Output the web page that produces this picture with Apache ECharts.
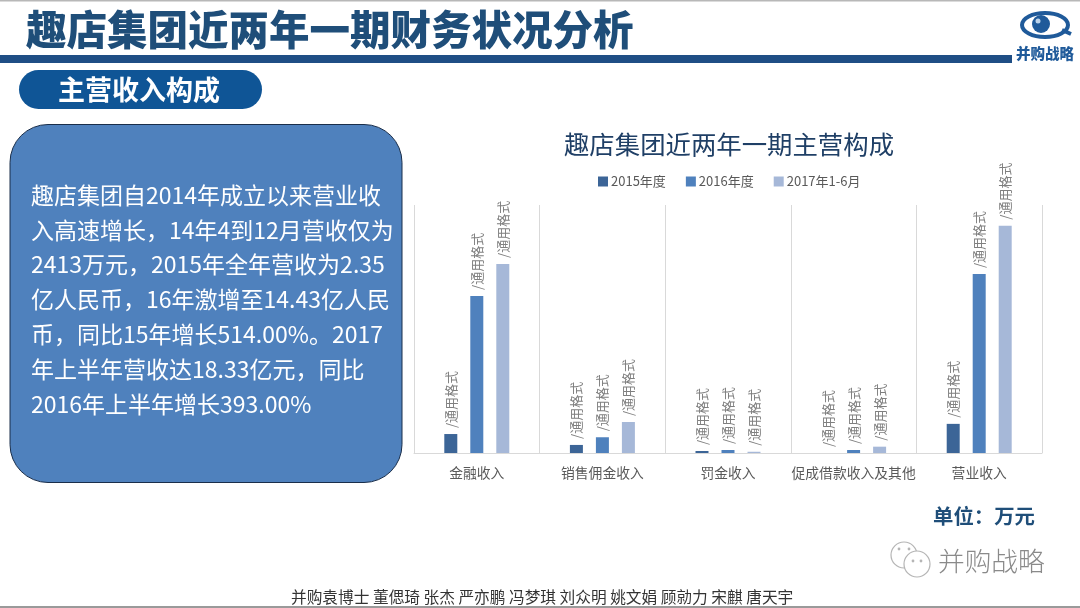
<!DOCTYPE html>
<html><head><meta charset="utf-8">
<style>html,body{margin:0;padding:0;background:#fff}#c{width:1080px;height:608px}</style>
<script src="https://cdn.jsdelivr.net/npm/echarts@6/dist/echarts.min.js"></script>
</head><body><div id="c"></div>
<script>
const categories = ['金融收入','销售佣金收入','罚金收入','促成借款收入及其他','营业收入'];
const seriesNames = ['2015年度','2016年度','2017年1-6月'];
const values2015 = [15300, 6500, 1600, 0, 23500];
const values2016 = [126700, 12700, 2400, 2400, 144300];
const values2017 = [152500, 25000, 1000, 5100, 183300];
const dataLabel = '/通用格式';
const bodyLines = [
 '趣店集团自2014年成立以来营业收',
 '入高速增长，14年4到12月营收仅为',
 '2413万元，2015年全年营收为2.35',
 '亿人民币，16年激增至14.43亿人民',
 '币，同比15年增长514.00%。2017',
 '年上半年营收达18.33亿元，同比',
 '2016年上半年增长393.00%'
];
const FONT = '"Noto Sans CJK SC","Noto Sans",sans-serif';
const colors = ['#3c6597','#4f81bd','#a6b8d8'];
const makeSeries = (name, data, color) => ({
  name, type:'bar', data, barWidth:13, barGap:'100%',
  itemStyle:{color},
  label:{show:true, position:'top', rotate:90, align:'left', verticalAlign:'middle', distance:6,
    formatter:dataLabel, fontSize:13, color:'#7f7f7f', fontFamily:FONT}
});
const txt = (x,y,text,fontSize,fill,fontWeight,extra) => ({type:'text',x,y,silent:true,
  style:Object.assign({text,fontSize,fill,fontWeight:fontWeight||'normal',fontFamily:FONT,textAlign:'left',textVerticalAlign:'middle'},extra||{})});
const graphics = [
  {type:'rect',shape:{x:0,y:0,width:1080,height:1.5},style:{fill:'#b8b8b8'}},
  {type:'rect',shape:{x:0,y:606,width:1080,height:2},style:{fill:'#9a9a9a'}},
  {type:'rect',shape:{x:0,y:55,width:1012,height:8},style:{fill:'#1f4e85'}},
  txt(26,30,'趣店集团近两年一期财务状况分析',40.5,'#1f4e79','900'),
  {type:'rect',shape:{x:19,y:70,width:243,height:39,r:19.5},style:{fill:'#0f5596'}},
  txt(58,90,'主营收入构成',27,'#ffffff','700'),
  {type:'rect',shape:{x:10,y:124.5,width:392,height:358,r:38},style:{fill:'#4f81bd',stroke:'#1a2e4a',lineWidth:1}},
  ...bodyLines.map((t,i)=>txt(31,195+i*34.8,t,23,'#ffffff','400')),
  txt(933,516,'单位：万元',20.4,'#1f4e79','700'),
  txt(938,561,'并购战略',26.7,'#8a8a8a','300'),
  txt(291,597,'并购袁博士 董偲琦 张杰 严亦鹏 冯梦琪 刘众明 姚文娟 顾勍力 宋麒 唐天宇',15.7,'#333333','400'),
  // logo
  {type:'ellipse',shape:{cx:1045,cy:25,rx:23,ry:12},style:{fill:'#fff',stroke:'#1f5a9a',lineWidth:4}},
  {type:'circle',shape:{cx:1041,cy:24,r:9},style:{fill:'#1f5a9a'}},
  {type:'circle',shape:{cx:1038,cy:21,r:2.5},style:{fill:'#bcd3ea'}},
  {type:'line',shape:{x1:1062,y1:30,x2:1071,y2:34},style:{stroke:'#1f5a9a',lineWidth:4}},
  txt(1016,53,'并购战略',14.5,'#1f5a9a','900'),
  // WeChat-style mark
  {type:'circle',shape:{cx:904,cy:555,r:13},style:{fill:'#fff',stroke:'#b5b5b5',lineWidth:1.2}},
  {type:'circle',shape:{cx:917,cy:564,r:13},style:{fill:'#fff',stroke:'#b5b5b5',lineWidth:1.2}},
  {type:'circle',shape:{cx:899,cy:549,r:1.4},style:{fill:'#b5b5b5'}},
  {type:'circle',shape:{cx:909,cy:549,r:1.4},style:{fill:'#b5b5b5'}},
  {type:'circle',shape:{cx:913,cy:561,r:1.4},style:{fill:'#b5b5b5'}},
  {type:'circle',shape:{cx:921,cy:561,r:1.4},style:{fill:'#b5b5b5'}}
];
const chart = echarts.init(document.getElementById('c'),null,{renderer:'canvas'});
chart.setOption({
  animation:false,
  backgroundColor:'#fff',
  title:{text:'趣店集团近两年一期主营构成',left:724,top:127,textAlign:'center',
    textStyle:{fontSize:25.4,fontWeight:'normal',color:'#1f3f66',fontFamily:FONT}},
  legend:{left:593,top:170,itemWidth:10,itemHeight:10,itemGap:20,icon:'rect',data:seriesNames,
    textStyle:{fontSize:13,color:'#595959',fontFamily:FONT,padding:[0,0,0,-2]}},
  grid:{left:414,right:38,top:205,bottom:155},
  xAxis:{type:'category',data:categories,
    axisTick:{show:false},
    axisLine:{lineStyle:{color:'#d9d9d9',width:1}},
    splitLine:{show:true,interval:0,lineStyle:{color:'#d9d9d9',width:1}},
    axisLabel:{interval:0,fontSize:13.8,color:'#595959',margin:13,fontFamily:FONT}},
  yAxis:{type:'value',min:0,max:200000,interval:50000,show:false,splitLine:{show:false}},
  series:[makeSeries(seriesNames[0],values2015,colors[0]),
          makeSeries(seriesNames[1],values2016,colors[1]),
          makeSeries(seriesNames[2],values2017,colors[2])],
  graphic:graphics
});
</script></body></html>
